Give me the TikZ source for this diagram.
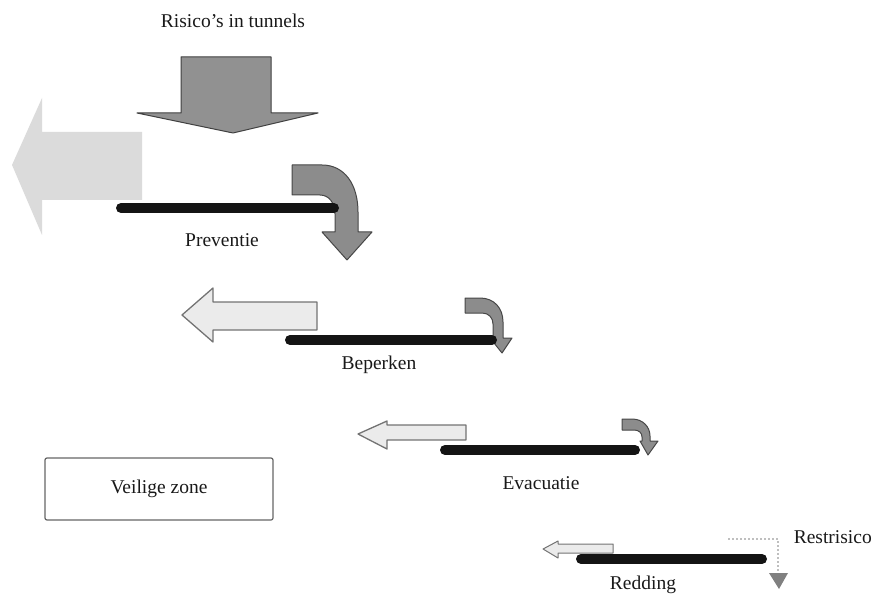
\documentclass[tikz,border=0pt]{standalone}
\usepackage{fontspec}
\setmainfont{Liberation Serif}
\begin{document}
\begin{tikzpicture}[x=1pt,y=-1pt,
  lbl/.style={font=\fontsize{19.5}{22}\selectfont, inner sep=0pt, text=black!90},
  downarrow/.style={fill=black!43, draw=black!75, line width=1pt, line join=round},
  fadedarrow/.style={fill=black!14, draw=none},
  lightarrow/.style={fill=black!8, draw=black!55, line width=1.3pt, line join=round},
  bentarrow/.style={fill=black!45, draw=black!72, line width=1pt, line join=round},
  bar/.style={draw=black!92, line width=10pt, line cap=round},
  zonebox/.style={draw=black!60, line width=1.2pt, rounded corners=2pt, fill=white}
]
\useasboundingbox (0,0) rectangle (873,596);

% title
\node[lbl] (title) at (233,21) {Risico’s in tunnels};

% big down arrow
\draw[downarrow] (181,57) -- (271,57) -- (271,113) -- (318,113) -- (233,133) -- (137,113) -- (181,113) -- cycle;

% faded left arrow
\fill[fadedarrow] (142,132) -- (42,132) -- (42,98) -- (12,165) -- (42,235) -- (42,200) -- (142,200) -- cycle;

% Preventie bent arrow
\draw[bentarrow] (292,165) -- (322,165) .. controls (345,165) and (358,185) .. (358,212) -- (358,232) -- (372,232) -- (347,260) -- (322,232) -- (335,232) -- (335,214) .. controls (335,203) and (329,195) .. (320,195) -- (292,195) -- cycle;
\draw[bar] (121,208) -- (334,208);
\node[lbl] (prev) at (222,240) {Preventie};

% Beperken
\draw[lightarrow] (317,302) -- (213,302) -- (213,288) -- (182,315) -- (213,342) -- (213,330) -- (317,330) -- cycle;
\draw[bentarrow] (465,298) -- (480,298) .. controls (494,298) and (503,308) .. (503,322) -- (503,338) -- (512,338) -- (502,353) -- (490,338) -- (493,338) -- (493,324) .. controls (493,318) and (489,313) .. (482,313) -- (465,313) -- cycle;
\draw[bar] (290,340) -- (492,340);
\node[lbl] (bep) at (379,365) {Beperken};

% Evacuatie
\draw[lightarrow] (466,425) -- (387,425) -- (387,421) -- (358,434) -- (387,449) -- (387,440) -- (466,440) -- cycle;
\draw[bentarrow] (622,419) -- (632,419) .. controls (643,419) and (650,427) .. (650,436) -- (650,441) -- (658,441) -- (648,455) -- (640,441) -- (642,441) -- (642,437) .. controls (642,433) and (639,430) .. (634,430) -- (622,430) -- cycle;
\draw[bar] (445,450) -- (635,450);
\node[lbl] (evac) at (541,483) {Evacuatie};

% Veilige zone
\node[zonebox, minimum width=228pt, minimum height=62pt, lbl, inner sep=0pt] (zone) at (159,489) {Veilige zone};

% Restrisico
\node[lbl, anchor=east] (rest) at (872,537) {Restrisico};

% Redding
\draw[lightarrow, line width=1pt] (613,544) -- (558,544) -- (558,541) -- (543,549) -- (558,558) -- (558,553) -- (613,553) -- cycle;
\draw[black!25, line width=2pt, dotted] (728,539) -- (778,539) -- (778,574);
\fill[black!50] (769,573) -- (788,573) -- (779,589) -- cycle;
\draw[bar] (581,559) -- (762,559);
\node[lbl] (red) at (643,585) {Redding};
\end{tikzpicture}
\end{document}
